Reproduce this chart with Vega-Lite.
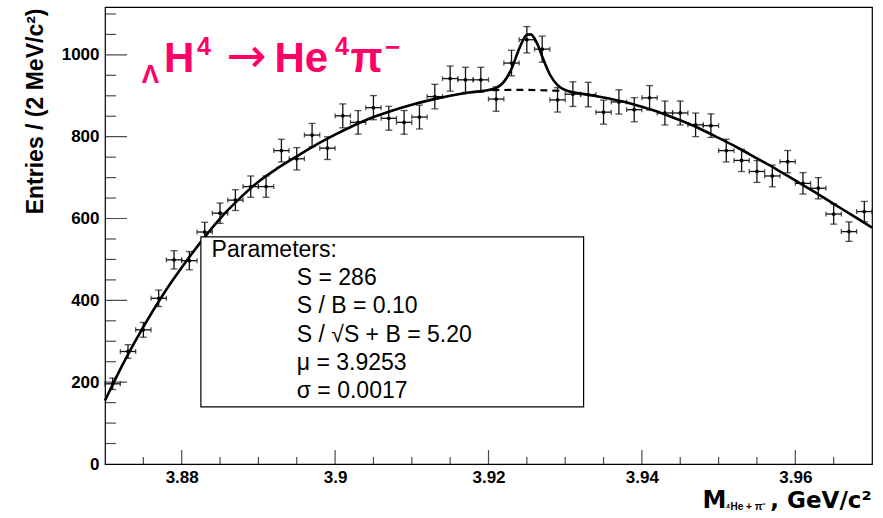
{
  "$schema": "https://vega.github.io/schema/vega-lite/v6.json",
  "width": 767,
  "height": 457,
  "autosize": {"type": "none"},
  "padding": {"left": 105, "top": 7, "right": 11, "bottom": 54},
  "background": "white",
  "config": {
    "view": {"stroke": "black", "strokeWidth": 1.2},
    "axis": {"grid": false, "domain": false, "labelColor": "black", "titleColor": "black", "tickColor": "black", "labelFont": "Liberation Sans", "titleFont": "Liberation Sans"}
  },
  "datasets": {
    "hist": [
      {"x": 3.871, "lo": 3.870, "hi": 3.872, "y": 196, "e": 14.0},
      {"x": 3.873, "lo": 3.872, "hi": 3.874, "y": 275, "e": 16.6},
      {"x": 3.875, "lo": 3.874, "hi": 3.876, "y": 328, "e": 18.1},
      {"x": 3.877, "lo": 3.876, "hi": 3.878, "y": 405, "e": 20.1},
      {"x": 3.879, "lo": 3.878, "hi": 3.880, "y": 499, "e": 22.3},
      {"x": 3.881, "lo": 3.880, "hi": 3.882, "y": 497, "e": 22.3},
      {"x": 3.883, "lo": 3.882, "hi": 3.884, "y": 567, "e": 23.8},
      {"x": 3.885, "lo": 3.884, "hi": 3.886, "y": 613, "e": 24.8},
      {"x": 3.887, "lo": 3.886, "hi": 3.888, "y": 645, "e": 25.4},
      {"x": 3.889, "lo": 3.888, "hi": 3.890, "y": 678, "e": 26.0},
      {"x": 3.891, "lo": 3.890, "hi": 3.892, "y": 678, "e": 26.0},
      {"x": 3.893, "lo": 3.892, "hi": 3.894, "y": 766, "e": 27.7},
      {"x": 3.895, "lo": 3.894, "hi": 3.896, "y": 746, "e": 27.3},
      {"x": 3.897, "lo": 3.896, "hi": 3.898, "y": 804, "e": 28.4},
      {"x": 3.899, "lo": 3.898, "hi": 3.900, "y": 772, "e": 27.8},
      {"x": 3.901, "lo": 3.900, "hi": 3.902, "y": 851, "e": 29.2},
      {"x": 3.903, "lo": 3.902, "hi": 3.904, "y": 835, "e": 28.9},
      {"x": 3.905, "lo": 3.904, "hi": 3.906, "y": 871, "e": 29.5},
      {"x": 3.907, "lo": 3.906, "hi": 3.908, "y": 845, "e": 29.1},
      {"x": 3.909, "lo": 3.908, "hi": 3.910, "y": 835, "e": 28.9},
      {"x": 3.911, "lo": 3.910, "hi": 3.912, "y": 848, "e": 29.1},
      {"x": 3.913, "lo": 3.912, "hi": 3.914, "y": 898, "e": 30.0},
      {"x": 3.915, "lo": 3.914, "hi": 3.916, "y": 942, "e": 30.7},
      {"x": 3.917, "lo": 3.916, "hi": 3.918, "y": 939, "e": 30.6},
      {"x": 3.919, "lo": 3.918, "hi": 3.920, "y": 939, "e": 30.6},
      {"x": 3.921, "lo": 3.920, "hi": 3.922, "y": 892, "e": 29.9},
      {"x": 3.923, "lo": 3.922, "hi": 3.924, "y": 980, "e": 31.3},
      {"x": 3.925, "lo": 3.924, "hi": 3.926, "y": 1037, "e": 32.2},
      {"x": 3.927, "lo": 3.926, "hi": 3.928, "y": 1014, "e": 31.8},
      {"x": 3.929, "lo": 3.928, "hi": 3.930, "y": 890, "e": 29.8},
      {"x": 3.931, "lo": 3.930, "hi": 3.932, "y": 904, "e": 30.1},
      {"x": 3.933, "lo": 3.932, "hi": 3.934, "y": 903, "e": 30.0},
      {"x": 3.935, "lo": 3.934, "hi": 3.936, "y": 860, "e": 29.3},
      {"x": 3.937, "lo": 3.936, "hi": 3.938, "y": 885, "e": 29.7},
      {"x": 3.939, "lo": 3.938, "hi": 3.940, "y": 866, "e": 29.4},
      {"x": 3.941, "lo": 3.940, "hi": 3.942, "y": 895, "e": 29.9},
      {"x": 3.943, "lo": 3.942, "hi": 3.944, "y": 858, "e": 29.3},
      {"x": 3.945, "lo": 3.944, "hi": 3.946, "y": 858, "e": 29.3},
      {"x": 3.947, "lo": 3.946, "hi": 3.948, "y": 829, "e": 28.8},
      {"x": 3.949, "lo": 3.948, "hi": 3.950, "y": 827, "e": 28.8},
      {"x": 3.951, "lo": 3.950, "hi": 3.952, "y": 766, "e": 27.7},
      {"x": 3.953, "lo": 3.952, "hi": 3.954, "y": 742, "e": 27.2},
      {"x": 3.955, "lo": 3.954, "hi": 3.956, "y": 715, "e": 26.7},
      {"x": 3.957, "lo": 3.956, "hi": 3.958, "y": 704, "e": 26.5},
      {"x": 3.959, "lo": 3.958, "hi": 3.960, "y": 739, "e": 27.2},
      {"x": 3.961, "lo": 3.960, "hi": 3.962, "y": 686, "e": 26.2},
      {"x": 3.963, "lo": 3.962, "hi": 3.964, "y": 674, "e": 26.0},
      {"x": 3.965, "lo": 3.964, "hi": 3.966, "y": 611, "e": 24.7},
      {"x": 3.967, "lo": 3.966, "hi": 3.968, "y": 568, "e": 23.8},
      {"x": 3.969, "lo": 3.968, "hi": 3.970, "y": 617, "e": 24.8}
    ],
    "fit": [
      {"x": 3.870, "y": 155},
      {"x": 3.8725, "y": 250},
      {"x": 3.875, "y": 335},
      {"x": 3.8775, "y": 412},
      {"x": 3.880, "y": 480},
      {"x": 3.8825, "y": 543},
      {"x": 3.885, "y": 600},
      {"x": 3.8875, "y": 648},
      {"x": 3.890, "y": 690},
      {"x": 3.8925, "y": 723},
      {"x": 3.895, "y": 752},
      {"x": 3.8975, "y": 780},
      {"x": 3.900, "y": 805},
      {"x": 3.9025, "y": 828},
      {"x": 3.905, "y": 848},
      {"x": 3.9075, "y": 864},
      {"x": 3.910, "y": 878},
      {"x": 3.9125, "y": 890},
      {"x": 3.915, "y": 900},
      {"x": 3.9175, "y": 908},
      {"x": 3.920, "y": 914},
      {"x": 3.921, "y": 919},
      {"x": 3.922, "y": 934},
      {"x": 3.923, "y": 966},
      {"x": 3.924, "y": 1015},
      {"x": 3.9245, "y": 1036},
      {"x": 3.925, "y": 1049},
      {"x": 3.9255, "y": 1050},
      {"x": 3.926, "y": 1040},
      {"x": 3.9265, "y": 1021},
      {"x": 3.927, "y": 996},
      {"x": 3.928, "y": 952},
      {"x": 3.929, "y": 926},
      {"x": 3.930, "y": 914},
      {"x": 3.9325, "y": 904},
      {"x": 3.935, "y": 896},
      {"x": 3.9375, "y": 886},
      {"x": 3.940, "y": 873},
      {"x": 3.9425, "y": 858},
      {"x": 3.945, "y": 840},
      {"x": 3.9475, "y": 820},
      {"x": 3.950, "y": 797},
      {"x": 3.9525, "y": 773},
      {"x": 3.955, "y": 747},
      {"x": 3.9575, "y": 721},
      {"x": 3.960, "y": 693},
      {"x": 3.9625, "y": 665},
      {"x": 3.965, "y": 636},
      {"x": 3.9675, "y": 607},
      {"x": 3.970, "y": 578}
    ],
    "bkg": [
      {"x": 3.9205, "y": 914},
      {"x": 3.925, "y": 914.5},
      {"x": 3.9297, "y": 912}
    ],
    "xmajor": [{"v": 3.88}, {"v": 3.90}, {"v": 3.92}, {"v": 3.94}, {"v": 3.96}],
    "xminor": [{"v": 3.875}, {"v": 3.885}, {"v": 3.89}, {"v": 3.895}, {"v": 3.905}, {"v": 3.91}, {"v": 3.915}, {"v": 3.925}, {"v": 3.93}, {"v": 3.935}, {"v": 3.945}, {"v": 3.95}, {"v": 3.955}, {"v": 3.965}],
    "ymajor": [{"v": 200}, {"v": 400}, {"v": 600}, {"v": 800}, {"v": 1000}],
    "yminor": [{"v": 50}, {"v": 100}, {"v": 150}, {"v": 250}, {"v": 300}, {"v": 350}, {"v": 450}, {"v": 500}, {"v": 550}, {"v": 650}, {"v": 700}, {"v": 750}, {"v": 850}, {"v": 900}, {"v": 950}, {"v": 1050}, {"v": 1100}]
  },
  "resolve": {"axis": {"x": "independent", "y": "independent"}},
  "layer": [
    {
      "data": {"name": "hist"},
      "mark": {"type": "errorbar", "color": "#111", "thickness": 1.3, "ticks": {"size": 7, "color": "#111", "strokeWidth": 1.3}},
      "encoding": {
        "x": {"field": "x", "type": "quantitative", "scale": {"domain": [3.87, 3.97], "nice": false, "zero": false}, "axis": null},
        "y": {"field": "y", "type": "quantitative", "scale": {"domain": [0, 1117], "nice": false, "zero": false}, "axis": null},
        "yError": {"field": "e"}
      }
    },
    {
      "data": {"name": "hist"},
      "mark": {"type": "errorbar", "color": "#111", "thickness": 1.3, "ticks": {"size": 5, "color": "#111", "strokeWidth": 1.3}},
      "encoding": {
        "x": {"field": "lo", "type": "quantitative", "scale": {"domain": [3.87, 3.97], "nice": false, "zero": false}, "axis": null},
        "x2": {"field": "hi"},
        "y": {"field": "y", "type": "quantitative", "scale": {"domain": [0, 1117], "nice": false, "zero": false}, "axis": null}
      }
    },
    {
      "data": {"name": "xmajor"},
      "mark": {"type": "tick", "orient": "vertical", "color": "black", "thickness": 1.2, "size": 28, "clip": true},
      "encoding": {
        "x": {"field": "v", "type": "quantitative", "scale": {"domain": [3.87, 3.97], "nice": false, "zero": false}, "axis": null},
        "y": {"datum": 0, "type": "quantitative", "scale": {"domain": [0, 1117], "nice": false, "zero": false}, "axis": null}
      }
    },
    {
      "data": {"name": "xminor"},
      "mark": {"type": "tick", "orient": "vertical", "color": "black", "thickness": 1.2, "size": 14, "clip": true},
      "encoding": {
        "x": {"field": "v", "type": "quantitative", "scale": {"domain": [3.87, 3.97], "nice": false, "zero": false}, "axis": null},
        "y": {"datum": 0, "type": "quantitative", "scale": {"domain": [0, 1117], "nice": false, "zero": false}, "axis": null}
      }
    },
    {
      "data": {"name": "ymajor"},
      "mark": {"type": "tick", "orient": "horizontal", "color": "black", "thickness": 1.2, "size": 44, "clip": true},
      "encoding": {
        "y": {"field": "v", "type": "quantitative", "scale": {"domain": [0, 1117], "nice": false, "zero": false}, "axis": null},
        "x": {"datum": 3.87, "type": "quantitative", "scale": {"domain": [3.87, 3.97], "nice": false, "zero": false}, "axis": null}
      }
    },
    {
      "data": {"name": "yminor"},
      "mark": {"type": "tick", "orient": "horizontal", "color": "black", "thickness": 1.2, "size": 22, "clip": true},
      "encoding": {
        "y": {"field": "v", "type": "quantitative", "scale": {"domain": [0, 1117], "nice": false, "zero": false}, "axis": null},
        "x": {"datum": 3.87, "type": "quantitative", "scale": {"domain": [3.87, 3.97], "nice": false, "zero": false}, "axis": null}
      }
    },
    {
      "data": {"name": "hist"},
      "mark": {"type": "circle", "size": 14, "color": "black", "opacity": 1},
      "encoding": {
        "x": {"field": "x", "type": "quantitative", "scale": {"domain": [3.87, 3.97], "nice": false, "zero": false},
          "axis": {"orient": "bottom", "values": [3.88, 3.9, 3.92, 3.94, 3.96], "format": "~g", "ticks": false, "labelPadding": 5, "labelFontWeight": "bold", "labelFontSize": 17, "labelOverlap": false, "labelFlush": false,
            "title": ", GeV/c²", "titleFont": "DejaVu Sans", "titleFontWeight": "bold", "titleFontSize": 23, "titleX": 766, "titleY": 43, "titleAlign": "right", "titleBaseline": "alphabetic", "titleAngle": 0}},
        "y": {"field": "y", "type": "quantitative", "scale": {"domain": [0, 1117], "nice": false, "zero": false},
          "axis": {"orient": "left", "values": [0, 200, 400, 600, 800, 1000], "format": "d", "ticks": false, "labelPadding": 6, "labelFontWeight": "bold", "labelFontSize": 17, "labelOverlap": false, "labelFlush": false,
            "title": "Entries / (2 MeV/c²)", "titleFontWeight": "bold", "titleFontSize": 23, "titleX": -70, "titleY": 1, "titleAlign": "right", "titleBaseline": "middle", "titleAngle": 270}}
      }
    },
    {
      "data": {"name": "fit"},
      "mark": {"type": "line", "color": "black", "strokeWidth": 2.6, "interpolate": "monotone"},
      "encoding": {
        "x": {"field": "x", "type": "quantitative", "scale": {"domain": [3.87, 3.97], "nice": false, "zero": false}, "axis": null},
        "y": {"field": "y", "type": "quantitative", "scale": {"domain": [0, 1117], "nice": false, "zero": false}, "axis": null}
      }
    },
    {
      "data": {"name": "bkg"},
      "mark": {"type": "line", "color": "black", "strokeWidth": 2.2, "strokeDash": [7, 5]},
      "encoding": {
        "x": {"field": "x", "type": "quantitative", "scale": {"domain": [3.87, 3.97], "nice": false, "zero": false}, "axis": null},
        "y": {"field": "y", "type": "quantitative", "scale": {"domain": [0, 1117], "nice": false, "zero": false}, "axis": null}
      }
    },
    {
      "data": {"values": [{"box": "Parameters"}]},
      "mark": {"type": "rect", "fill": "white", "stroke": "black", "strokeWidth": 1.2},
      "encoding": {
        "x": {"datum": 3.8825, "type": "quantitative", "scale": {"domain": [3.87, 3.97], "nice": false, "zero": false}, "axis": null},
        "x2": {"datum": 3.9324},
        "y": {"datum": 555, "type": "quantitative", "scale": {"domain": [0, 1117], "nice": false, "zero": false}, "axis": null},
        "y2": {"datum": 139.5}
      }
    },
    {
      "data": {"values": [{"t": "Parameters:"}]},
      "mark": {"type": "text", "align": "left", "baseline": "alphabetic", "font": "Liberation Sans", "fontSize": 23, "color": "black"},
      "encoding": {
        "x": {"datum": 3.8839, "type": "quantitative", "scale": {"domain": [3.87, 3.97], "nice": false, "zero": false},
          "axis": {"orient": "bottom", "labels": false, "ticks": false, "domain": false, "title": "M", "titleFont": "DejaVu Sans", "titleFontWeight": "bold", "titleFontSize": 24, "titleX": 597, "titleY": 43, "titleAlign": "left", "titleBaseline": "alphabetic", "titleAngle": 0}},
        "y": {"datum": 506, "type": "quantitative", "scale": {"domain": [0, 1117], "nice": false, "zero": false}, "axis": null},
        "text": {"field": "t"}
      }
    },
    {
      "data": {"values": [{"t": ["S = 286", "S / B = 0.10", "S / √S + B = 5.20", "μ = 3.9253", "σ = 0.0017"]}]},
      "mark": {"type": "text", "align": "left", "baseline": "alphabetic", "font": "Liberation Sans", "fontSize": 23, "lineHeight": 28.3, "color": "black"},
      "encoding": {
        "x": {"datum": 3.8950, "type": "quantitative", "scale": {"domain": [3.87, 3.97], "nice": false, "zero": false},
          "axis": {"orient": "bottom", "labels": false, "ticks": false, "domain": false, "title": "⁴He + π⁻", "titleFontWeight": "bold", "titleFontSize": 10, "titleX": 620, "titleY": 45, "titleAlign": "left", "titleBaseline": "alphabetic", "titleAngle": 0}},
        "y": {"datum": 437.7, "type": "quantitative", "scale": {"domain": [0, 1117], "nice": false, "zero": false}, "axis": null},
        "text": {"field": "t"}
      }
    },
    {
      "data": {"values": [{"t": "H"}]},
      "mark": {"type": "text", "align": "left", "baseline": "alphabetic", "font": "Liberation Sans", "fontWeight": "bold", "fontSize": 42, "color": "#ff0066"},
      "encoding": {
        "x": {"datum": 3.8777, "type": "quantitative", "scale": {"domain": [3.87, 3.97], "nice": false, "zero": false}, "axis": null},
        "y": {"datum": 958, "type": "quantitative", "scale": {"domain": [0, 1117], "nice": false, "zero": false}, "axis": null},
        "text": {"field": "t"}
      }
    },
    {
      "data": {"values": [{"t": "4"}]},
      "mark": {"type": "text", "align": "left", "baseline": "alphabetic", "font": "Liberation Sans", "fontWeight": "bold", "fontSize": 25, "color": "#ff0066"},
      "encoding": {
        "x": {"datum": 3.8820, "type": "quantitative", "scale": {"domain": [3.87, 3.97], "nice": false, "zero": false}, "axis": null},
        "y": {"datum": 1000, "type": "quantitative", "scale": {"domain": [0, 1117], "nice": false, "zero": false}, "axis": null},
        "text": {"field": "t"}
      }
    },
    {
      "data": {"values": [{"t": "→"}]},
      "mark": {"type": "text", "align": "left", "baseline": "alphabetic", "font": "DejaVu Sans", "fontSize": 48, "color": "#ff0066"},
      "encoding": {
        "x": {"datum": 3.8858, "type": "quantitative", "scale": {"domain": [3.87, 3.97], "nice": false, "zero": false}, "axis": null},
        "y": {"datum": 958, "type": "quantitative", "scale": {"domain": [0, 1117], "nice": false, "zero": false}, "axis": null},
        "text": {"field": "t"}
      }
    },
    {
      "data": {"values": [{"t": "He"}]},
      "mark": {"type": "text", "align": "left", "baseline": "alphabetic", "font": "Liberation Sans", "fontWeight": "bold", "fontSize": 42, "color": "#ff0066"},
      "encoding": {
        "x": {"datum": 3.8921, "type": "quantitative", "scale": {"domain": [3.87, 3.97], "nice": false, "zero": false}, "axis": null},
        "y": {"datum": 958, "type": "quantitative", "scale": {"domain": [0, 1117], "nice": false, "zero": false}, "axis": null},
        "text": {"field": "t"}
      }
    },
    {
      "data": {"values": [{"t": "4"}]},
      "mark": {"type": "text", "align": "left", "baseline": "alphabetic", "font": "Liberation Sans", "fontWeight": "bold", "fontSize": 25, "color": "#ff0066"},
      "encoding": {
        "x": {"datum": 3.9000, "type": "quantitative", "scale": {"domain": [3.87, 3.97], "nice": false, "zero": false}, "axis": null},
        "y": {"datum": 1000, "type": "quantitative", "scale": {"domain": [0, 1117], "nice": false, "zero": false}, "axis": null},
        "text": {"field": "t"}
      }
    },
    {
      "data": {"values": [{"t": "π"}]},
      "mark": {"type": "text", "align": "left", "baseline": "alphabetic", "font": "Liberation Sans", "fontWeight": "bold", "fontSize": 42, "color": "#ff0066"},
      "encoding": {
        "x": {"datum": 3.9020, "type": "quantitative", "scale": {"domain": [3.87, 3.97], "nice": false, "zero": false}, "axis": null},
        "y": {"datum": 958, "type": "quantitative", "scale": {"domain": [0, 1117], "nice": false, "zero": false}, "axis": null},
        "text": {"field": "t"}
      }
    },
    {
      "data": {"values": [{"t": "−"}]},
      "mark": {"type": "text", "align": "left", "baseline": "alphabetic", "font": "Liberation Sans", "fontWeight": "bold", "fontSize": 26, "color": "#ff0066"},
      "encoding": {
        "x": {"datum": 3.9065, "type": "quantitative", "scale": {"domain": [3.87, 3.97], "nice": false, "zero": false}, "axis": null},
        "y": {"datum": 997, "type": "quantitative", "scale": {"domain": [0, 1117], "nice": false, "zero": false}, "axis": null},
        "text": {"field": "t"}
      }
    },
    {
      "data": {"values": [{"t": "Λ"}]},
      "mark": {"type": "text", "align": "left", "baseline": "alphabetic", "font": "Liberation Sans", "fontWeight": "bold", "fontSize": 26, "color": "#ff0066"},
      "encoding": {
        "x": {"datum": 3.8748, "type": "quantitative", "scale": {"domain": [3.87, 3.97], "nice": false, "zero": false}, "axis": null},
        "y": {"datum": 931, "type": "quantitative", "scale": {"domain": [0, 1117], "nice": false, "zero": false}, "axis": null},
        "text": {"field": "t"}
      }
    }
  ]
}
